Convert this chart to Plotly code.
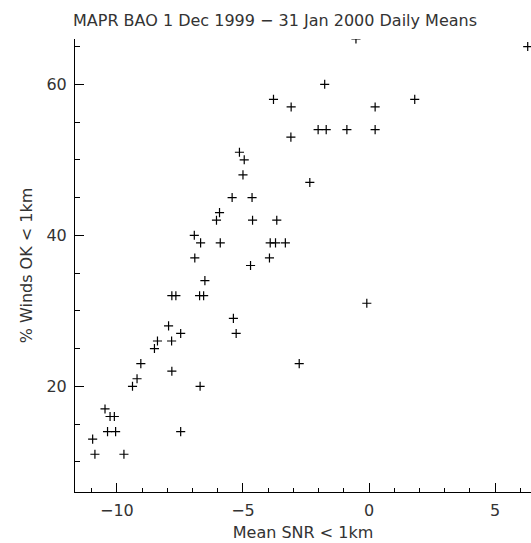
import plotly.graph_objects as go

# Mean SNR below 1 km (dB) and % of winds OK below 1 km, daily means
snr = [6.29, -0.52, -1.76, -3.79, 1.81, -3.09, 0.24, -2.02, -1.70, -0.88,
       0.24, -3.10, -5.14, -4.95, -5.00, -2.35, -5.43, -4.64, -5.93, -6.05,
       -4.62, -3.66, -6.93, -6.68, -5.90, -3.92, -3.71, -3.32, -6.91, -3.95,
       -4.70, -6.51, -7.82, -7.66, -6.72, -6.56, -0.09, -5.38, -7.95, -7.47,
       -5.27, -8.39, -7.83, -8.51, -9.05, -2.77, -7.82, -9.20, -9.38, -6.70,
       -10.47, -10.27, -10.10, -10.37, -10.05, -7.47, -10.96, -10.87, -9.72]
pct_ok = [65, 66, 60, 58, 58, 57, 57, 54, 54, 54,
          54, 53, 51, 50, 48, 47, 45, 45, 43, 42,
          42, 42, 40, 39, 39, 39, 39, 39, 37, 37,
          36, 34, 32, 32, 32, 32, 31, 29, 28, 27,
          27, 26, 26, 25, 23, 23, 22, 21, 20, 20,
          17, 16, 16, 14, 14, 14, 13, 11, 11]

title_text = "MAPR BAO 1 Dec 1999 \u2212 31 Jan 2000 Daily Means"
x_label = "Mean SNR < 1km"
y_label = "% Winds OK < 1km"
x_ticks = [-10, -5, 0, 5]
y_ticks = [20, 40, 60]

FONT = "DejaVu Sans"
TXT = "#333333"
W, H = 531, 543

fig = go.Figure()
fig.add_trace(go.Scatter(
    x=snr, y=pct_ok, mode="markers",
    marker=dict(symbol="cross-thin", size=6.5,
                line=dict(color="black", width=1.2)),
    cliponaxis=True, showlegend=False, hoverinfo="x+y",
))

fig.update_layout(
    width=W, height=H,
    margin=dict(l=75, r=0, t=39, b=51, pad=0, autoexpand=False),
    paper_bgcolor="white", plot_bgcolor="white",
    font=dict(family=FONT, size=16, color=TXT),
    title=dict(text=title_text, x=275 / W, xanchor="center",
               y=1 - 20 / H, yanchor="middle", automargin=False,
               font=dict(family=FONT, size=16, color=TXT)),
)

fig.update_xaxes(
    range=[-11.66, 6.42], showgrid=False, zeroline=False, automargin=False,
    showline=True, linecolor="black", linewidth=1,
    ticks="inside", ticklen=9, tickwidth=1, tickcolor="black",
    tickvals=x_ticks, ticktext=[str(v).replace("-", "\u2212") for v in x_ticks],
    tickfont=dict(family=FONT, size=16, color=TXT),
    ticklabelstandoff=4,
    minor=dict(dtick=1, ticks="inside", ticklen=4, tickwidth=1,
               tickcolor="black", showgrid=False),
    title=dict(text=x_label, font=dict(family=FONT, size=16, color=TXT),
               standoff=7),
)
fig.update_yaxes(
    range=[6, 66], showgrid=False, zeroline=False, automargin=False,
    showline=True, linecolor="black", linewidth=1,
    ticks="inside", ticklen=9, tickwidth=1, tickcolor="black",
    tickvals=y_ticks, ticktext=[str(v) for v in y_ticks],
    tickfont=dict(family=FONT, size=16, color=TXT),
    ticklabelstandoff=4,
    minor=dict(dtick=5, ticks="inside", ticklen=4.5, tickwidth=1,
               tickcolor="black", showgrid=False),
    title=dict(text=y_label, font=dict(family=FONT, size=16, color=TXT),
               standoff=9),
)

# remove the browser's default 8px body margin so the figure fills the window
fig.write_html("out.html", config={"displayModeBar": False},
               post_script="document.body.style.margin='0px';")
